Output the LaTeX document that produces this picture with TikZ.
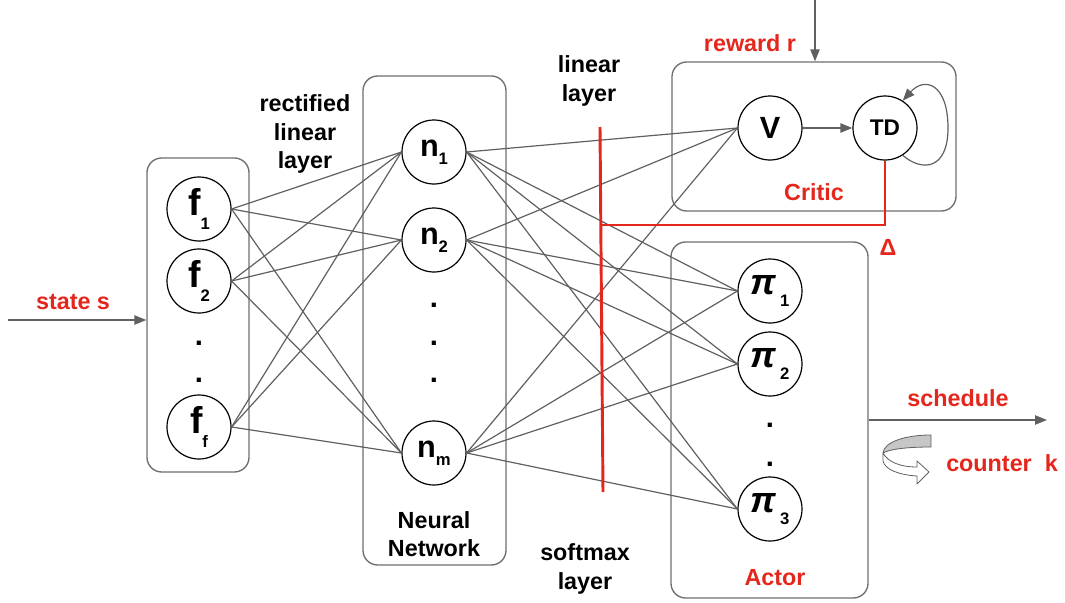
\documentclass[tikz,border=0pt]{standalone}
\usepackage{fontspec}
\setmainfont{Liberation Sans}
\usetikzlibrary{arrows.meta,fit}

\definecolor{lbred}{HTML}{E5261C}
\definecolor{edgegray}{HTML}{606060}
\definecolor{boxgray}{HTML}{6E6E6E}

\newcommand{\fsz}[1]{\fontsize{#1}{#1}\selectfont}
\newcommand{\lowsub}[2]{\raisebox{-#1}{\fsz{12.5}#2}}

\tikzset{
  unit/.style={circle, draw=black, line width=0.9pt, minimum size=48pt, inner sep=0pt, font=\bfseries},
  layerbox/.style={draw=boxgray, line width=1pt, rounded corners=11pt, inner sep=0pt},
  conn/.style={draw=edgegray, line width=0.9pt},
  flow/.style={draw=edgegray, line width=1pt, -{Triangle[length=9pt,width=7pt]}},
  redline/.style={draw=lbred, line width=2.2pt},
  lbl/.style={font=\bfseries\fontsize{17.5}{21.5}\selectfont, align=center, text=black, inner sep=0pt},
  redlbl/.style={font=\bfseries\fsz{17.5}, text=lbred, inner sep=0pt},
  dotmark/.style={font=\bfseries\fsz{22}, inner sep=0pt},
}

\begin{document}
\begin{tikzpicture}[x=0.75pt, y=-0.75pt]
\useasboundingbox (0,0) rectangle (1065,603);

% ---- layer boxes ----
\node[layerbox, fit={(147,158) (249,472)}] (feat) {};
\node[layerbox, fit={(363,76) (506,565)}] (nnet) {};
\node[layerbox, fit={(672,62) (956,211)}] (critic) {};
\node[layerbox, fit={(671,242) (868,598)}] (actor) {};

% ---- input features ----
\node[unit] (f1) at (199,209) {\fsz{28}f\lowsub{10pt}{1}};
\node[unit] (f2) at (199,281) {\fsz{28}f\lowsub{10pt}{2}};
\node[unit] (ff) at (199,427) {\fsz{28}f\lowsub{10pt}{f}};
\node[dotmark] (fd1) at (199,343) {.};
\node[dotmark] (fd2) at (199,380) {.};

% ---- hidden units ----
\node[unit] (n1) at (434,152) {\fsz{23}n\lowsub{6pt}{1}};
\node[unit] (n2) at (434,240) {\fsz{23}n\lowsub{6pt}{2}};
\node[unit] (nm) at (434,453) {\fsz{23}n\lowsub{6pt}{m}};
\node[dotmark] (nd1) at (434,305) {.};
\node[dotmark] (nd2) at (434,343) {.};
\node[dotmark] (nd3) at (434,380) {.};

% ---- critic ----
\node[unit] (V) at (770,128) {\fsz{23}V};
\node[unit] (TD) at (885,128) {\fsz{17}TD};

% ---- actor ----
\node[unit] (p1) at (770,291) {\fsz{27}\itshape π\hspace{3pt}\lowsub{9pt}{\upshape 1}};
\node[unit] (p2) at (770,364) {\fsz{27}\itshape π\hspace{3pt}\lowsub{9pt}{\upshape 2}};
\node[unit] (p3) at (770,509) {\fsz{27}\itshape π\hspace{3pt}\lowsub{9pt}{\upshape 3}};
\node[dotmark] (pd1) at (770,425) {.};
\node[dotmark] (pd2) at (770,464) {.};

% ---- labels ----
\node[lbl] (rect) at (305,134) {rectified\\linear\\layer};
\node[lbl] (lin) at (589,81) {linear\\layer};
\node[lbl] (soft) at (585,569) {softmax\\layer};
\node[lbl] (nnlbl) at (434,534) {Neural\\Network};
\node[redlbl] (critlbl) at (814,192) {Critic};
\node[redlbl] (actlbl) at (775,578) {Actor};
\node[redlbl] (rew) at (750,43) {reward r};
\node[redlbl] (state) at (73,302) {state s};
\node[redlbl] (sched) at (958,398) {schedule};
\node[redlbl] (count) at (1002,463) {counter\ \ k};
\node[redlbl] (delta) at (888,247) {Δ};

% ---- fully connected weights ----
\foreach \a in {f1,f2,ff}
  \foreach \b in {n1,n2,nm}
    \draw[conn] (\a.east) -- (\b.west);
\foreach \a in {n1,n2,nm}
  \foreach \b in {V,p1,p2,p3}
    \draw[conn] (\a.east) -- (\b.west);

% ---- critic internals ----
\draw[flow] (V) -- (TD);
\draw[conn, -{Triangle[length=9pt,width=7pt]}]
  (TD.-57) .. controls (922,172) and (948,170) .. (948,128)
           .. controls (948,84) and (925,76) .. (TD.57);

% ---- linear / softmax split and TD error ----
\coordinate (splittop) at (600,127);
\coordinate (splitbot) at (603,492);
\draw[redline] (splittop) -- (splitbot);
\coordinate (tdbranch) at (600.5,225);
\draw[redline] (tdbranch) -| (TD.south);

% ---- external signals ----
\coordinate (rewardin) at (815,0);
\draw[flow] (rewardin) -- (rewardin |- critic.north);
\coordinate (statein) at (8,320);
\draw[flow] (statein) -- (statein -| feat.west);
\coordinate (schedout) at (1047,420);
\draw[flow] (schedout -| actor.east) -- (schedout);

% ---- counter icon ----
\draw[edgegray, line width=0.6pt, fill=gray!45]
  (931,435) .. controls (905,435) and (884,442) .. (883,453)
  .. controls (890,449) and (908,447) .. (931,447) -- cycle;
\draw[edgegray, line width=0.6pt, fill=white, line join=round]
  (883,453) -- (883,461) .. controls (885,470) and (900,475) .. (917,476)
  -- (917,484) -- (929,472) -- (917,461) -- (917,467)
  .. controls (900,467) and (888,462) .. (883,453);
\end{tikzpicture}
\end{document}
